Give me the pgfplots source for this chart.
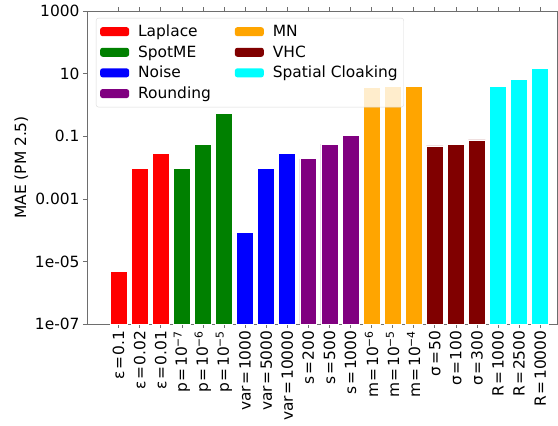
\documentclass[border=0pt]{standalone}
\usepackage{fontspec}
\setmainfont{DejaVu Sans}
\usepackage{pgfplots}
\pgfplotsset{compat=1.18}

\definecolor{cLap}{RGB}{255,0,0}
\definecolor{cSpot}{RGB}{0,128,0}
\definecolor{cNoise}{RGB}{0,0,255}
\definecolor{cRound}{RGB}{128,0,128}
\definecolor{cMN}{RGB}{255,165,0}
\definecolor{cVHC}{RGB}{128,0,0}
\definecolor{cCloak}{RGB}{0,255,255}
\definecolor{spine}{RGB}{110,110,110}

% equals sign with a little room on each side
\newcommand{\eq}{\hspace{0.1em}=\hspace{0.1em}}

\begin{document}
\begin{tikzpicture}
\begin{axis}[
  at={(0,0)}, anchor=south west,
  width=470bp, height=313bp, scale only axis,
  ymode=log, log origin=infty,
  ymin=1e-7, ymax=1000,
  xmin=-1.5, xmax=20.8,
  ytick={1e-7,1e-5,0.001,0.1,10,1000},
  yticklabels={1e-07,1e-05,0.001,0.1,10,1000},
  yminorticks=false,
  xtick={0,...,20},
  xticklabels={
    ε\eq0.1, ε\eq0.02, ε\eq0.01,
    p\eq10\textsuperscript{−7}, p\eq10\textsuperscript{−6}, p\eq10\textsuperscript{−5},
    var\eq1000, var\eq5000, var\eq10000,
    s\eq200, s\eq500, s\eq1000,
    m\eq10\textsuperscript{−6}, m\eq10\textsuperscript{−5}, m\eq10\textsuperscript{−4},
    σ\eq50, σ\eq100, σ\eq300,
    R\eq1000, R\eq2500, R\eq10000},
  xticklabel style={rotate=90, anchor=east, inner sep=2.5bp},
  tick label style={font=\fontsize{15.5}{18}\selectfont},
  /pgf/number format/assume math mode=true,
  tick align=outside, major tick length=4bp,
  tick style={spine, line width=0.6bp},
  axis line style={spine, line width=0.8bp},
  ylabel={MAE (PM 2.5)},
  ylabel style={font=\fontsize{15.5}{18}\selectfont},
  ybar, bar width=0.8, bar shift=0pt,
  every axis plot/.append style={draw=white, line width=0.6bp},
  legend columns=2,
  legend cell align=left,
  legend style={
    at={(0.019,0.978)}, anchor=north west,
    font=\fontsize{15.5}{18}\selectfont,
    fill=white, fill opacity=0.8, text opacity=1, draw opacity=1,
    draw=black!15, rounded corners=2.5bp,
    inner xsep=4bp, inner ysep=5bp,
    row sep=3.5bp,
    /tikz/every odd column/.append style={column sep=7bp},
    /tikz/every even column/.append style={column sep=22bp},
  },
  legend image code/.code={
    \fill[#1, draw=none, fill opacity=1] (0bp,-4.5bp) rectangle (29bp,4.5bp);
  },
]
% entries are added alternately so the two legend columns read top to bottom
\addplot[fill=cLap] coordinates {(0,4.7e-6) (1,0.0094) (2,0.028)};
\addlegendentry{Laplace}
\addplot[fill=cMN] coordinates {(12,3.6) (13,4.0) (14,4.0)};
\addlegendentry{MN}
\addplot[fill=cSpot] coordinates {(3,0.0094) (4,0.056) (5,0.54)};
\addlegendentry{SpotME}
\addplot[fill=cVHC] coordinates {(15,0.049) (16,0.056) (17,0.076)};
\addlegendentry{VHC}
\addplot[fill=cNoise] coordinates {(6,8.5e-5) (7,0.0094) (8,0.028)};
\addlegendentry{Noise}
\addplot[fill=cCloak] coordinates {(18,3.8) (19,6.6) (20,14.8)};
\addlegendentry{Spatial Cloaking}
\addplot[fill=cRound] coordinates {(9,0.019) (10,0.056) (11,0.107)};
\addlegendentry{Rounding}
\end{axis}
\pgfresetboundingbox
\path[use as bounding box] (-87bp,-102bp) rectangle (471bp,324bp);
\end{tikzpicture}
\end{document}
